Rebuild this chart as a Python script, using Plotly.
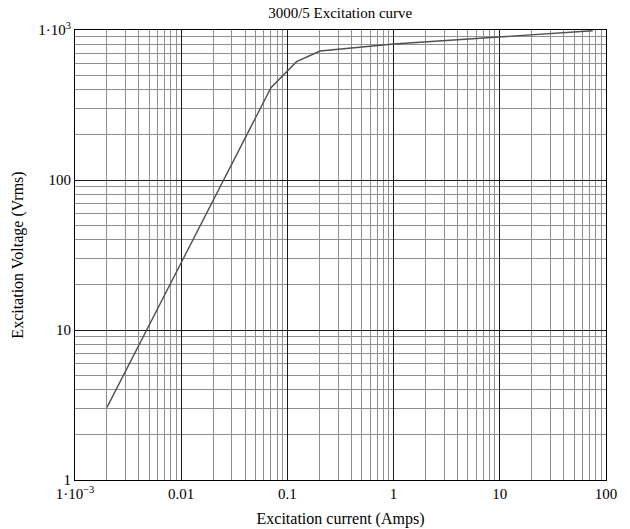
import plotly.graph_objects as go

# Excitation curve data
current_amps = [0.002, 0.070, 0.122, 0.203, 1.0, 10.0, 75.0]
voltage_vrms = [3.05, 412, 615, 724, 807, 894, 988]

x_tickvals = [0.001, 0.01, 0.1, 1, 10, 100]
x_ticktext = ["1\u00b710<sup>\u22123</sup>", "0.01", "0.1", "1", "10", "100"]
y_tickvals = [1, 10, 100, 1000]
y_ticktext = ["1", "10", "100", "1\u00b710<sup>3</sup>"]

serif = "Liberation Serif, Times New Roman, serif"

fig = go.Figure()
fig.add_trace(go.Scatter(
    x=current_amps, y=voltage_vrms, mode="lines",
    line=dict(color="#505050", width=1.4), showlegend=False,
))

axis_common = dict(
    type="log",
    showline=True, mirror=True, linecolor="black", linewidth=1.2,
    showgrid=True, gridcolor="#1a1a1a", gridwidth=1,
    ticks="", zeroline=False, automargin=False,
    tickfont=dict(family=serif, size=15, color="black"),
    minor=dict(dtick="D1", showgrid=True, gridcolor="#8f8f8f", gridwidth=1, ticks=""),
)

fig.update_layout(
    width=630, height=529,
    margin=dict(l=75, r=24, t=30, b=49),
    paper_bgcolor="white", plot_bgcolor="white",
    title=dict(text="3000/5 Excitation curve", x=0.54, xanchor="center",
               y=1 - 13 / 529, yref="container", yanchor="middle",
               font=dict(family=serif, size=15, color="black")),
    xaxis=dict(axis_common, range=[-3, 2], tickvals=x_tickvals, ticktext=x_ticktext,
               title=dict(text="Excitation current (Amps)", standoff=11,
                          font=dict(family=serif, size=16, color="black"))),
    yaxis=dict(axis_common, range=[0, 3], tickvals=y_tickvals, ticktext=y_ticktext,
               title=dict(text="Excitation Voltage (Vrms)", standoff=10,
                          font=dict(family=serif, size=16, color="black"))),
)

fig.write_html(
    "out.html",
    config={"displayModeBar": False},
    post_script="document.body.style.margin='0';document.body.style.padding='0';",
)
